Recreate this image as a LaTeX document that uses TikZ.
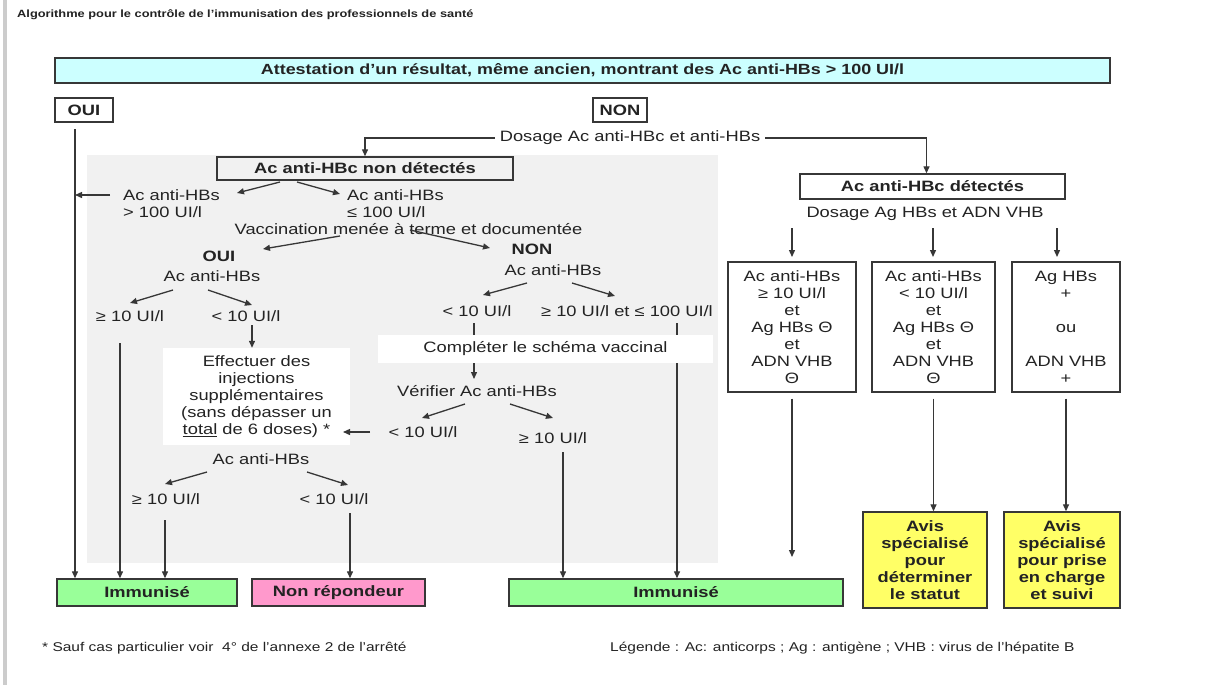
\documentclass[tikz,border=0pt]{standalone}
\usepackage{fontspec}
\setmainfont{Liberation Sans}[FakeStretch=1.22]
\usetikzlibrary{arrows.meta,calc}
\definecolor{cyanbg}{RGB}{204,255,255}
\definecolor{greenbg}{RGB}{153,255,153}
\definecolor{pinkbg}{RGB}{255,153,204}
\definecolor{yellowbg}{RGB}{255,255,102}
\definecolor{panel}{RGB}{241,241,241}
\definecolor{ink}{RGB}{35,35,35}
\definecolor{edge}{RGB}{55,55,55}
\begin{document}
\begin{tikzpicture}[x=1pt,y=-1pt,
  f/.style={font=\fontsize{15}{17}\selectfont},
  fb/.style={font=\fontsize{15}{17}\selectfont\bfseries},
  txt/.style={f, inner sep=1pt, align=center, text=ink},
  btxt/.style={fb, inner sep=1pt, align=center, text=ink},
  box/.style={draw=edge, line width=1.4pt, inner sep=0pt, align=center, text=ink},
  conn/.style={draw=edge, line width=1.3pt, -{Triangle[length=7pt,width=6pt]}},
  plain/.style={draw=edge, line width=1.3pt},
  foot/.style={anchor=west, inner sep=0pt, text=ink, font=\fontsize{12.7}{14}\selectfont},
]
\useasboundingbox (0,0) rectangle (1217,685);
\fill[white] (0,0) rectangle (1217,685);
\fill[panel] (87,155) rectangle (718,563);
\fill[gray!40] (3,0) rectangle (7,685);

\node[anchor=west, inner sep=0pt, text=ink, font=\fontsize{10.5}{12}\selectfont\bfseries] (ptitle) at (17,15) {Algorithme pour le contrôle de l’immunisation des professionnels de santé};

\node[box, fill=cyanbg, minimum width=1055, minimum height=25, font=\fontsize{14.7}{16}\selectfont\bfseries] (cyan) at (582.5,70.5) {Attestation d’un résultat, même ancien, montrant des Ac anti-HBs > 100 UI/l};
\node[box, fb, minimum width=58, minimum height=24] (oui) at (84,110) {OUI};
\node[box, fb, minimum width=54, minimum height=24] (non) at (620,110) {NON};
\node[txt, inner xsep=5pt] (dosage) at (630,138) {Dosage Ac anti-HBc et anti-HBs};
\node[box, fb, minimum width=296, minimum height=23] (nondet) at (365,168.5) {Ac anti-HBc non détectés};
\node[box, fb, minimum width=265, minimum height=25] (det) at (932.5,186.5) {Ac anti-HBc détectés};
\node[txt] (dosage2) at (925,214) {Dosage Ag HBs et ADN VHB};

\node[txt, align=left, anchor=west] (hbsA) at (122,203.5) {Ac anti-HBs\\> 100 UI/l};
\node[txt, align=left, anchor=west] (hbsB) at (346,203.5) {Ac anti-HBs\\≤ 100 UI/l};
\node[txt] (vacc) at (408.5,229) {Vaccination menée à terme et documentée};
\node[btxt] (oui2) at (219,256) {OUI};
\node[txt] (acoui) at (212,276) {Ac anti-HBs};
\node[txt] (ge10a) at (130,316) {≥ 10 UI/l};
\node[txt] (lt10a) at (246,316) {< 10 UI/l};
\node[txt, fill=white, minimum width=187, minimum height=97, inner sep=0pt] (eff) at (256.5,396.5) {Effectuer des\\injections\\supplémentaires\\(sans dépasser un\\\underline{total} de 6 doses) *};
\node[txt] (lt10d) at (423,432) {< 10 UI/l};
\node[txt] (aceff) at (261,459) {Ac anti-HBs};
\node[txt] (ge10c) at (166,499) {≥ 10 UI/l};
\node[txt] (lt10c) at (334,499) {< 10 UI/l};

\node[btxt] (non2) at (532,249) {NON};
\node[txt] (acnon) at (553,270) {Ac anti-HBs};
\node[txt] (lt10b) at (477,311) {< 10 UI/l};
\node[txt] (ge10b) at (627,311) {≥ 10 UI/l et ≤ 100 UI/l};

\node[box, fb, fill=greenbg, minimum width=180, minimum height=27] (imm1) at (147,592.5) {Immunisé};
\node[box, fb, fill=pinkbg, minimum width=173, minimum height=27] (nonrep) at (338.5,592.5) {Non répondeur};
\node[box, fb, fill=greenbg, minimum width=334, minimum height=27] (imm2) at (676,592.5) {Immunisé};

% lines running under the white "Compléter" band
\coordinate (lbTop) at (474,323);
\coordinate (rbTop) at (677,323);
\draw[conn] (lbTop) -- (lbTop |- 0,379);
\draw[conn] (rbTop) -- (rbTop |- imm2.north);

\node[txt, fill=white, minimum width=335, minimum height=28, inner sep=0pt] (comp) at (545.5,349) {Compléter le schéma vaccinal};
\node[txt] (verif) at (477,391) {Vérifier Ac anti-HBs};
\node[txt] (ge10d) at (553,438) {≥ 10 UI/l};

% right column
\node[box, f, minimum width=128, minimum height=130] (b1) at (792,327) {Ac anti-HBs\\≥ 10 UI/l\\et\\Ag HBs Θ\\et\\ADN VHB\\Θ};
\node[box, f, minimum width=123, minimum height=130] (b2) at (933.5,327) {Ac anti-HBs\\< 10 UI/l\\et\\Ag HBs Θ\\et\\ADN VHB\\Θ};
\node[box, f, minimum width=108, minimum height=130] (b3) at (1066,327) {Ag HBs\\+\\ \\ou\\ \\ADN VHB\\+};
\node[box, fb, fill=yellowbg, minimum width=124, minimum height=96] (y1) at (925,560) {Avis\\spécialisé\\pour\\déterminer\\le statut};
\node[box, fb, fill=yellowbg, minimum width=116, minimum height=96] (y2) at (1062,560) {Avis\\spécialisé\\pour prise\\en charge\\et suivi};

% footnotes
\node[foot] (fn) at (42,648) {* Sauf cas particulier voir~~4° de l’annexe 2 de l’arrêté};
\node[foot] (lg) at (610,648) {Légende : Ac: anticorps ; Ag : antigène ; VHB : virus de l’hépatite B};

% connectors
\coordinate (ouiL) at (75,129);
\draw[conn] (ouiL) -- (ouiL |- imm1.north);
\coordinate (hA) at (110,195);
\draw[conn] (hA) -- (ouiL |- hA);
\draw[conn] (dosage.west) -| (nondet.north);
\draw[conn] (dosage.east) -| ([xshift=-6pt]det.north);

\coordinate (a1s) at (280,182); \coordinate (a1e) at (237,193);
\coordinate (a2s) at (297,182); \coordinate (a2e) at (340,194);
\draw[conn] (a1s) -- (a1e);
\draw[conn] (a2s) -- (a2e);
\coordinate (a4s) at (340,236); \coordinate (a4e) at (263,249);
\coordinate (a5s) at (410,230); \coordinate (a5e) at (490,248);
\draw[conn] (a4s) -- (a4e);
\draw[conn] (a5s) -- (a5e);
\coordinate (a6s) at (173,290); \coordinate (a6e) at (130,303);
\coordinate (a7s) at (208,290); \coordinate (a7e) at (252,305);
\draw[conn] (a6s) -- (a6e);
\draw[conn] (a7s) -- (a7e);
\coordinate (a8s) at (252,325);
\draw[conn] (a8s) -- (a8s |- eff.north);
\coordinate (a9s) at (120,343);
\draw[conn] (a9s) -- (a9s |- imm1.north);
\coordinate (a10s) at (370,432);
\draw[conn] (a10s) -- (343,432);
\coordinate (a11s) at (207,472); \coordinate (a11e) at (165,484);
\coordinate (a12s) at (307,472); \coordinate (a12e) at (348,485);
\draw[conn] (a11s) -- (a11e);
\draw[conn] (a12s) -- (a12e);
\coordinate (a13s) at (165,520);
\draw[conn] (a13s) -- (a13s |- imm1.north);
\coordinate (a14s) at (350,513);
\draw[conn] (a14s) -- (a14s |- nonrep.north);
\coordinate (a15s) at (527,283); \coordinate (a15e) at (483,295);
\coordinate (a16s) at (572,283); \coordinate (a16e) at (615,296);
\draw[conn] (a15s) -- (a15e);
\draw[conn] (a16s) -- (a16e);
\coordinate (a19s) at (465,404); \coordinate (a19e) at (422,418);
\coordinate (a20s) at (510,404); \coordinate (a20e) at (553,418);
\draw[conn] (a19s) -- (a19e);
\draw[conn] (a20s) -- (a20e);
\coordinate (a21s) at (563,452);
\draw[conn] (a21s) -- (a21s |- imm2.north);

\coordinate (d1) at (792,228); \coordinate (d2) at (933,228); \coordinate (d3) at (1057,228);
\draw[conn] (d1) -- (792,257);
\draw[conn] (d2) -- (933,257);
\draw[conn] (d3) -- (1057,257);
\coordinate (b1end) at (792,557);
\draw[conn] ($(b1.south)+(0,6)$) -- (b1end);
\draw[conn] ($(b2.south)+(0,6)$) -- (b2.south |- y1.north);
\draw[conn] ($(b3.south)+(0,6)$) -- (b3.south |- y2.north);
\end{tikzpicture}
\end{document}
